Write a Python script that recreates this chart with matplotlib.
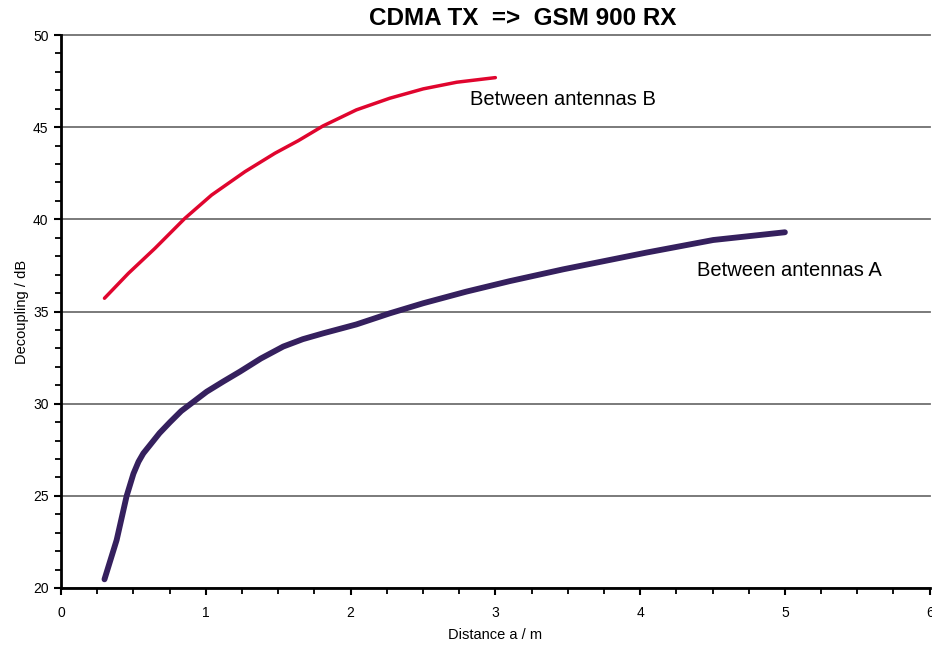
import matplotlib
matplotlib.use("Agg")
import matplotlib.pyplot as plt
from matplotlib.ticker import MultipleLocator

plt.rcParams['font.family'] = ['Liberation Sans', 'DejaVu Sans']

dist_a = [0.3, 0.384, 0.453, 0.50, 0.535, 0.568, 0.615, 0.68, 0.753, 0.83, 0.914, 1.006,
          1.12, 1.236, 1.38, 1.535, 1.67, 1.812, 2.04, 2.27, 2.502, 2.80, 3.10, 3.469,
          4.045, 4.505, 5.0]
dec_a = [20.47, 22.6, 24.99, 26.2, 26.85, 27.3, 27.76, 28.4, 29.0, 29.6, 30.1, 30.65,
         31.2, 31.74, 32.45, 33.1, 33.5, 33.82, 34.3, 34.9, 35.45, 36.08, 36.65, 37.29,
         38.2, 38.88, 39.3]

dist_b = [0.3, 0.465, 0.649, 0.856, 1.04, 1.271, 1.478, 1.639, 1.81, 2.04, 2.27,
          2.502, 2.733, 3.0]
dec_b = [35.72, 37.07, 38.43, 40.06, 41.32, 42.59, 43.59, 44.27, 45.07, 45.94, 46.57,
         47.08, 47.44, 47.69]

title = "CDMA TX  =>  GSM 900 RX"
xlabel = "Distance a / m"
ylabel = "Decoupling / dB"
label_a = "Between antennas A"
label_b = "Between antennas B"

fig = plt.figure(figsize=(9.32, 6.49), dpi=100)
ax = fig.add_axes([0.0655, 0.094, 0.932, 0.852])

ax.plot(dist_a, dec_a, color='#35205e', lw=4.2, solid_capstyle='round',
        solid_joinstyle='round', zorder=3)
ax.plot(dist_b, dec_b, color='#e0052e', lw=2.5, solid_capstyle='round',
        solid_joinstyle='round', zorder=3)

ax.set_xlim(0, 6)
ax.set_ylim(20, 50)
ax.xaxis.set_major_locator(MultipleLocator(1))
ax.xaxis.set_minor_locator(MultipleLocator(0.25))
ax.yaxis.set_major_locator(MultipleLocator(5))
ax.yaxis.set_minor_locator(MultipleLocator(1))
ax.grid(axis='y', which='major', color='#707070', lw=1.3, zorder=1)
ax.set_axisbelow(True)
for gl in ax.get_ygridlines():
    gl.set_clip_on(False)

for s in ['top', 'right']:
    ax.spines[s].set_visible(False)
for s in ['left', 'bottom']:
    ax.spines[s].set_linewidth(2)
    ax.spines[s].set_color('black')

ax.tick_params(which='major', direction='out', length=5, width=1.5, labelsize=10)
ax.tick_params(which='minor', direction='out', length=4, width=1.3)
ax.tick_params(axis='x', which='major', pad=8)
ax.tick_params(axis='y', which='major', pad=4)

ax.set_xlabel(xlabel, fontsize=10.5, labelpad=6)
ax.set_ylabel(ylabel, fontsize=10.5, labelpad=3)
fig.text(0.561, 0.972, title, fontsize=17.5, fontweight='bold', ha='center', va='center')

ax.text(2.825, 46.53, label_b, fontsize=14.5, ha='left', va='center')
ax.text(4.39, 37.2, label_a, fontsize=14.5, ha='left', va='center')

fig.savefig('out.png', dpi=100)
